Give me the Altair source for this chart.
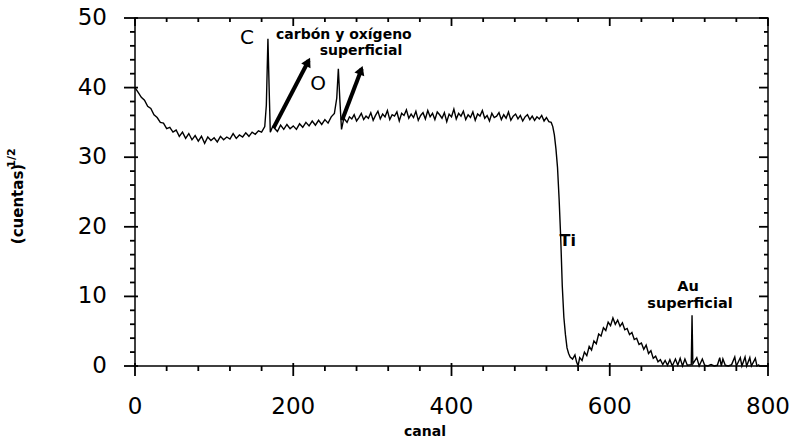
import altair as alt
import pandas as pd

# ---------------- data ----------------
canal = [
    0, 4, 8, 12, 16, 20, 24, 28, 32, 36, 40, 44, 48, 52, 56, 60, 64, 68, 72, 76,
    80, 84, 88, 92, 96, 100, 104, 108, 112, 116, 120, 124, 128, 132, 136, 140, 144, 148, 152, 156,
    160, 164,
    166, 168, 169.5, 171, 174, 176, 180, 184, 188, 192, 196, 200, 204, 208, 212, 216, 220, 224, 228, 232,
    236, 240, 244, 248, 252, 255, 257, 259, 261, 264,
    268, 271, 274, 277, 280, 283, 286, 289, 292, 295, 298, 301, 304, 307, 310, 313, 316, 319, 322, 325,
    328, 331, 334, 337, 340, 343, 346, 349, 352, 355, 358, 361, 364, 367, 370, 373, 376, 379, 382, 385,
    388, 391, 394, 397, 400, 403, 406, 409, 412, 415, 418, 421, 424, 427, 430, 433, 436, 439, 442, 445,
    448, 451, 454, 457, 460, 463, 466, 469, 472, 475, 478, 481, 484, 487, 490, 493, 496, 499, 502, 505,
    508, 511, 514, 517, 520, 523,
    526, 528, 530, 532, 534, 536, 538, 540, 542, 544, 546, 548, 550, 553, 556, 558, 560, 562, 565, 568,
    571, 574, 577, 580, 583, 586, 589, 592, 595, 598, 601, 604, 607, 610, 613, 616, 619, 622, 625, 628,
    631, 634, 637, 640, 643, 646, 649, 652, 655, 658, 661, 664, 667, 670, 673, 676, 679, 683, 686, 689,
    692, 695, 698, 703, 704, 705, 710, 713, 717, 720, 724, 728, 732, 736, 739, 741, 743, 746, 750, 754,
    758, 760, 765, 767, 771, 773, 777, 779, 784, 786, 789,
]
cuentas = [
    40.0, 39.3, 38.6, 38.2, 37.3, 37.0, 36.1, 35.7, 35.0, 34.9, 34.1, 34.3, 33.6, 33.9, 33.0, 33.6, 32.7, 33.4, 32.5, 33.1,
    32.3, 33.0, 32.0, 32.9, 32.4, 32.8, 32.2, 33.0, 32.5, 32.9, 32.6, 33.4, 32.7, 33.2, 32.9, 33.5, 33.0, 33.6, 33.3, 33.8,
    33.6, 34.4,
    37.5, 47.0, 40.0, 33.6, 34.4, 34.2, 33.7, 34.6, 34.0, 34.7, 34.1, 34.5, 34.0, 34.8, 34.3, 35.0, 34.5, 35.2, 34.6, 35.3,
    34.7, 35.4, 34.9, 35.8, 36.3, 38.5, 42.7, 38.0, 34.0, 35.6,
    35.0, 35.8, 35.5, 36.1, 35.2, 35.7, 36.3, 35.4, 35.9, 35.6, 36.4, 35.3, 36.0, 36.6, 35.5, 36.2, 35.8, 36.7, 35.4, 36.1,
    35.9, 36.5, 35.2, 36.3, 36.0, 36.8, 35.6, 36.2, 35.7, 36.6, 35.3, 36.0, 36.4, 35.5, 36.7, 35.8, 36.3, 35.4, 36.5, 36.1,
    35.6, 36.4, 35.1, 36.2, 35.8, 36.9, 35.5, 36.3, 35.9, 36.6, 35.4, 36.1, 35.7, 36.5, 35.3, 36.2, 35.9, 36.7, 35.6, 36.0,
    35.2, 36.3, 35.7, 35.9, 36.4, 35.4, 36.1, 35.6, 36.5, 35.3, 35.9, 36.2, 35.5, 36.0, 35.2, 35.8, 36.1, 35.4, 35.9, 35.3,
    35.8, 35.5, 36.0, 35.2, 35.7, 35.1,
    35.0, 34.4, 33.2, 31.2, 28.5, 24.0, 18.5, 11.5, 7.0, 4.5, 2.6, 1.8, 1.3, 1.0, 1.6, 0.6, 0.0, 1.2, 0.8, 2.0,
    1.5, 2.8, 2.3, 3.6, 3.2, 4.6, 4.3, 5.5, 5.1, 6.3, 5.8, 6.9, 6.0, 6.6, 5.7, 6.2, 5.2, 5.4, 4.5, 4.8,
    3.8, 4.0, 3.1, 3.3, 2.4, 3.0, 1.8, 2.2, 1.1, 1.4, 0.6, 0.9, 0.2, 0.8, 0.1, 0.9, 0.0, 1.0, 0.1, 1.1,
    0.0, 1.0, 0.1, 0.2, 7.3, 0.3, 1.2, 0.0, 1.0, 0.1, 0.0, 0.2, 0.0, 0.1, 1.2, 0.0, 1.0, 0.1, 0.0, 0.2,
    1.3, 0.0, 1.2, 0.0, 1.3, 0.0, 1.2, 0.0, 1.1, 0.0, 0.2,
]

x_major = [0, 200, 400, 600, 800]
x_minor = [40, 80, 120, 160, 240, 280, 320, 360, 440, 480, 520, 560, 640, 680, 720, 760]
y_major = [0, 10, 20, 30, 40, 50]
y_minor = [2, 4, 6, 8, 12, 14, 16, 18, 22, 24, 26, 28, 32, 34, 36, 38, 42, 44, 46, 48]
x_title = "canal"
y_title = "(cuentas)"
y_title_sup = "1/2"

# annotations
big_labels = ["C", "O"]
big_x = [141.5, 231.3]
big_y = [47.1, 40.5]

bold_labels = ["carbón y oxígeno", "superficial", "Ti", "Au", "superficial"]
bold_x = [264.0, 285.6, 547.0, 699.0, 701.4]
bold_y = [47.6, 45.2, 18.0, 11.35, 8.9]
bold_size = [14, 14, 16, 14.5, 14.5]

arrow_x = [175.0, 261.7]
arrow_y = [34.2, 35.3]
arrow_x2 = [219.5, 286.5]
arrow_y2 = [43.9, 42.7]
head_x = [218.6, 285.6]
head_y = [43.7, 42.5]
head_angle = [27.5, 21.0]

# ---------------- chart ----------------
FONT = "DejaVu Sans"
W, H = 633, 348
X0, X1, Y0, Y1 = 0, 800, 0, 50
PX = (X1 - X0) / W      # data units per pixel, x
PY = (Y1 - Y0) / H      # data units per pixel, y
TW = 0.9                # half tick thickness, pixels

df = pd.DataFrame({"canal": canal, "cuentas": cuentas})
xs = alt.Scale(domain=[X0, X1], nice=False, zero=False)
ys = alt.Scale(domain=[Y0, Y1], nice=False, zero=False)


def X(field):
    return alt.X(field, type="quantitative", scale=xs, axis=None)


def Y(field):
    return alt.Y(field, type="quantitative", scale=ys, axis=None)


main = alt.Chart(df).mark_line(color="black", strokeWidth=1.4).encode(
    x=X("canal"), y=Y("cuentas"))

# tick marks as thin filled rectangles: positions from the tick lists, lengths in pixels
rows = []


def vtick(v, ya, yb):
    rows.append((v - TW * PX, min(ya, yb), v + TW * PX, max(ya, yb)))


def htick(v, xa, xb):
    rows.append((min(xa, xb), v - TW * PY, max(xa, xb), v + TW * PY))


for v in x_major:
    vtick(v, Y0 + 3 * PY, Y0 - 10 * PY)     # bottom
    vtick(v, Y1, Y1 - 8 * PY)               # top, inward
for v in x_minor:
    vtick(v, Y0, Y0 - 5 * PY)
    vtick(v, Y1, Y1 - 4 * PY)
for v in y_major:
    htick(v, X0 - 11 * PX, X0 + 3 * PX)     # left
    htick(v, X1 - 9 * PX, X1)               # right, inward
for v in y_minor:
    htick(v, X0 - 5 * PX, X0)
    htick(v, X1 - 4 * PX, X1)
tick_df = pd.DataFrame(rows, columns=["tx", "ty", "tx2", "ty2"])
ticks = alt.Chart(tick_df).mark_rect(color="black", opacity=1).encode(
    x=X("tx"), y=Y("ty"), x2="tx2:Q", y2="ty2:Q")

# tick labels (placed through the scales)
xlab = alt.Chart(pd.DataFrame({"xv": x_major})).mark_text(
    font=FONT, fontSize=23, color="black", baseline="top", align="center").encode(
    x=X("xv"), y=alt.value(H + 30), text=alt.Text("xv:Q", format="d"))
ylab = alt.Chart(pd.DataFrame({"yv": y_major})).mark_text(
    font=FONT, fontSize=23, color="black", baseline="middle", align="right").encode(
    y=Y("yv"), x=alt.value(-28), text=alt.Text("yv:Q", format="d"))

xtit = alt.Chart(pd.DataFrame({"t": [x_title]})).mark_text(
    font=FONT, fontSize=14, fontWeight="bold", color="black",
    baseline="middle", align="center").encode(
    x=alt.value(290), y=alt.value(H + 66), text="t:N")
ytit = alt.Chart(pd.DataFrame({"t": [y_title]})).mark_text(
    font=FONT, fontSize=15, fontWeight="bold", color="black", angle=270,
    baseline="middle", align="center").encode(
    x=alt.value(-117), y=alt.value(186), text="t:N")
sup = alt.Chart(pd.DataFrame({"t": [y_title_sup]})).mark_text(
    font=FONT, fontWeight="bold", fontSize=11, color="black",
    angle=270, baseline="middle", align="center").encode(
    x=alt.value(-123), y=alt.value(140), text="t:N")

big_df = pd.DataFrame({"t": big_labels, "x": big_x, "y": big_y})
big_text = alt.Chart(big_df).mark_text(font=FONT, fontSize=20, color="black",
                                       baseline="middle", align="center").encode(
    x=X("x"), y=Y("y"), text="t:N")

bold_df = pd.DataFrame({"t": bold_labels, "x": bold_x, "y": bold_y, "s": bold_size})
bold_text = alt.Chart(bold_df).mark_text(font=FONT, fontWeight="bold", color="black",
                                         baseline="middle", align="center").encode(
    x=X("x"), y=Y("y"),
    text="t:N", size=alt.Size("s:Q", scale=None, legend=None))

arr_df = pd.DataFrame({"x": arrow_x, "y": arrow_y, "x2": arrow_x2, "y2": arrow_y2,
                       "hx": head_x, "hy": head_y, "a": head_angle})
shafts = alt.Chart(arr_df).mark_rule(color="black", strokeWidth=4).encode(
    x=X("x"), y=Y("y"), x2="x2:Q", y2="y2:Q")
heads = alt.Chart(arr_df).mark_point(shape="triangle-up", filled=True, color="black",
                                     opacity=1, size=110).encode(
    x=X("hx"), y=Y("hy"), angle=alt.Angle("a:Q", scale=None))

chart = alt.layer(main, ticks, shafts, heads, big_text, bold_text,
                  xlab, ylab, xtit, ytit, sup).properties(
    width=W, height=H,
    autosize=alt.AutoSizeParams(type="none"),
    padding={"left": 135, "top": 18, "right": 29, "bottom": 75},
    background="white",
).configure_view(stroke="black", strokeWidth=1.5)

chart.save("out.html", embed_options={"renderer": "svg", "actions": False})
